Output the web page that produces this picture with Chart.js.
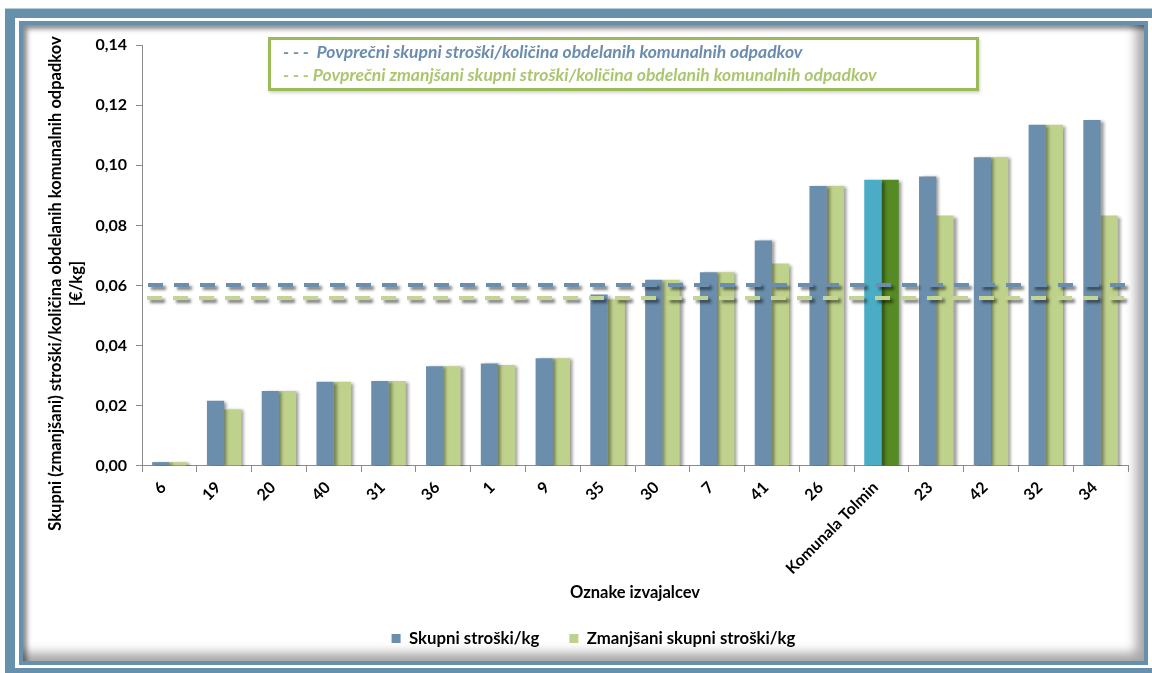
<!DOCTYPE html>
<html lang="sl">
<head>
<meta charset="utf-8">
<title>Skupni stroški/kg po izvajalcih</title>
<script src="https://cdn.jsdelivr.net/npm/chart.js@4.4.1/dist/chart.umd.min.js"></script>
<style>
  html, body { margin: 0; padding: 0; width: 1152px; height: 673px; overflow: hidden; background: #fff; }
  .frame-outer { position: absolute; left: 5px; top: 8px; width: 1200px; height: 700px; background: #6690ab; border-top: 1px solid #b9ccd9; }
  .frame-gap { position: absolute; left: 15px; top: 18px; width: 1137px; height: 650px; background: #fff; }
  .frame-inner { position: absolute; left: 19px; top: 21px; width: 1121px; height: 636px; border: 4px solid #6690ab; background: #fff;
    box-shadow: inset 4px 4px 5px rgba(0,0,0,0.45), inset -8px -8px 11px rgba(0,0,0,0.35); }
  #chart { position: absolute; left: 0; top: 0; z-index: 2; }
  .avg-key { position: absolute; left: 268px; top: 37px; width: 705px; height: 48px; border: 3px solid #9bbb59; background: #fff; z-index: 3;
    box-shadow: 1px 2px 3px rgba(0,0,0,0.18); font: italic bold 17.5px Lato, sans-serif; white-space: pre; }
  .avg-key div { position: absolute; left: 12px; line-height: 22px; }
  .avg-key .k1 { top: 1px; color: #6a8cae; }
  .avg-key .k2 { top: 24px; color: #abc66f; }
</style>
</head>
<body>
<div class="frame-outer"></div>
<div class="frame-gap"></div>
<div class="frame-inner"></div>
<canvas id="chart" width="1152" height="673"></canvas>
<div class="avg-key">
  <div class="k1">- - -  Povprečni skupni stroški/količina obdelanih komunalnih odpadkov</div>
  <div class="k2">- - - Povprečni zmanjšani skupni stroški/količina obdelanih komunalnih odpadkov</div>
</div>
<script>
// Oznake izvajalcev (razvrščene po skupnih stroških na kg)
const categories = ['6', '19', '20', '40', '31', '36', '1', '9', '35', '30', '7', '41', '26',
  'Komunala Tolmin', '23', '42', '32', '34'];

// Skupni stroški na kg [€/kg]
const skupniStroski = [0.0013, 0.0217, 0.0249, 0.0280, 0.0283, 0.0332, 0.0341, 0.0358, 0.0570,
  0.0619, 0.0644, 0.0750, 0.0931, 0.0952, 0.0963, 0.1027, 0.1135, 0.1151];

// Zmanjšani skupni stroški na kg [€/kg]
const zmanjsaniStroski = [0.0013, 0.0188, 0.0249, 0.0280, 0.0283, 0.0332, 0.0336, 0.0358, 0.0554,
  0.0619, 0.0644, 0.0673, 0.0931, 0.0952, 0.0833, 0.1027, 0.1135, 0.0833];

// Povprečja za vse izvajalce
const povprecjeSkupni = 0.0602;
const povprecjeZmanjsani = 0.0558;

const yTickLabels = ['0,00', '0,02', '0,04', '0,06', '0,08', '0,10', '0,12', '0,14'];
const seriesNames = ['Skupni stroški/kg', 'Zmanjšani skupni stroški/kg'];
const yTitleLines = ['Skupni (zmanjšani) stroški/količina obdelanih komunalnih odpadkov', '[€/kg]'];
const xTitle = 'Oznake izvajalcev';
const highlighted = 'Komunala Tolmin';

const BLUE = '#6b8ead', GREEN = '#bfd28b', HL_BLUE = '#4bacc6', HL_GREEN = '#558a24';
const AXIS = '#8c8c8c';
const FONT = 'Lato, "Open Sans", sans-serif';
const PLOT_LEFT = 142;
const PLOT_BOTTOM = 466;
const PAD = { left: 59, right: 24, top: 45, bottom: 16 };

// Soft shadow behind the bars
const barShadow = {
  id: 'barShadow',
  beforeDatasetsDraw(chart) {
    const c = chart.ctx;
    c.save();
    c.shadowColor = 'rgba(0,0,0,0.38)';
    c.shadowOffsetX = 3;
    c.shadowOffsetY = 1;
    c.shadowBlur = 3;
  },
  afterDatasetsDraw(chart) { chart.ctx.restore(); }
};

// Dashed average lines across the plot
const averageLines = {
  id: 'averageLines',
  afterDatasetsDraw(chart) {
    const { ctx, chartArea, scales: { y } } = chart;
    ctx.save();
    ctx.lineWidth = 4;
    ctx.setLineDash([15, 11]);
    ctx.shadowColor = 'rgba(0,0,0,0.5)';
    ctx.shadowOffsetX = 3;
    ctx.shadowOffsetY = 3;
    ctx.shadowBlur = 3;
    [[povprecjeSkupni, BLUE, 6], [povprecjeZmanjsani, '#c2d592', 5]].forEach(([v, col, inset]) => {
      const py = Math.round(y.getPixelForValue(v));
      ctx.strokeStyle = col;
      ctx.beginPath();
      ctx.moveTo(chartArea.left + inset, py);
      ctx.lineTo(chartArea.right - 1, py);
      ctx.stroke();
    });
    ctx.restore();
  }
};

// Two-line vertical title of the value axis
const yAxisTitle = {
  id: 'yAxisTitle',
  afterDraw(chart) {
    const { ctx, chartArea } = chart;
    const cy = (chartArea.top + chartArea.bottom) / 2 + 28;
    ctx.save();
    ctx.font = 'bold 16.5px ' + FONT;
    ctx.fillStyle = '#000';
    ctx.textAlign = 'center';
    ctx.textBaseline = 'middle';
    yTitleLines.forEach((t, i) => {
      ctx.save();
      ctx.translate(56 + i * 21, cy);
      ctx.rotate(-Math.PI / 2);
      ctx.fillText(t, 0, 0);
      ctx.restore();
    });
    ctx.restore();
  }
};

const colorFor = (base, hl) => (c) =>
  (c.type === 'data' && categories[c.dataIndex] === highlighted) ? hl : base;

new Chart(document.getElementById('chart'), {
  type: 'bar',
  data: {
    labels: categories,
    datasets: [
      { label: seriesNames[0], data: skupniStroski, backgroundColor: colorFor(BLUE, HL_BLUE),
        categoryPercentage: 0.63, barPercentage: 1.0 },
      { label: seriesNames[1], data: zmanjsaniStroski, backgroundColor: colorFor(GREEN, HL_GREEN),
        categoryPercentage: 0.63, barPercentage: 1.0 }
    ]
  },
  options: {
    responsive: false,
    animation: false,
    devicePixelRatio: 1,
    layout: { padding: PAD },
    plugins: {
      tooltip: { enabled: false },
      legend: {
        position: 'bottom',
        labels: {
          boxWidth: 9, boxHeight: 9, padding: 30, color: '#000',
          font: { family: FONT, size: 16.8, weight: 'bold' }
        }
      }
    },
    scales: {
      x: {
        grid: { display: true, drawOnChartArea: false, drawTicks: true, tickLength: 6, color: AXIS, offset: true },
        border: { display: true, color: AXIS, width: 1 },
        ticks: {
          autoSkip: false, minRotation: 45, maxRotation: 45, padding: 6, labelOffset: -6,
          color: '#000', font: { family: FONT, size: 16, weight: 'bold' }
        },
        title: {
          display: true, text: xTitle, color: '#000',
          font: { family: FONT, size: 16.5, weight: 'bold' }, padding: { top: 0, bottom: -2 }
        },
        afterFit(s) { s.height = s.chart.height - PAD.bottom - s.chart.legend.height - PLOT_BOTTOM; }
      },
      y: {
        min: 0, max: 0.14,
        grid: { display: true, drawOnChartArea: false, drawTicks: true, tickLength: 6, color: AXIS },
        border: { display: true, color: AXIS, width: 1 },
        ticks: {
          stepSize: 0.02, padding: 9, color: '#000',
          font: { family: FONT, size: 16, weight: 'bold' },
          callback: (v, i) => yTickLabels[i]
        },
        afterFit(s) { s.width = PLOT_LEFT - PAD.left; }
      }
    }
  },
  plugins: [barShadow, averageLines, yAxisTitle]
});
</script>
</body>
</html>
